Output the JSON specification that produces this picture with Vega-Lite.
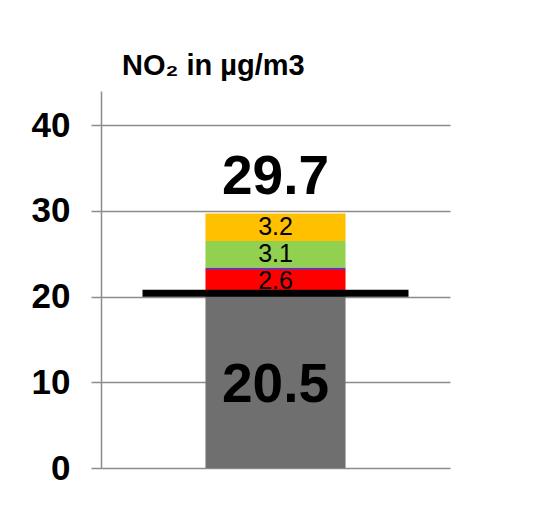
{
  "$schema": "https://vega.github.io/schema/vega-lite/v6.json",
  "width": 349,
  "height": 377,
  "autosize": {"type": "none"},
  "padding": {"left": 101, "top": 91, "right": 99, "bottom": 52},
  "background": "white",
  "config": {"view": {"stroke": null}, "font": "Liberation Sans"},
  "title": {
    "text": "NO₂ in µg/m3",
    "anchor": "start",
    "dx": 91,
    "fontSize": 29,
    "fontWeight": "bold",
    "font": "Liberation Sans",
    "color": "#000000",
    "baseline": "alphabetic",
    "offset": -13
  },
  "datasets": {
    "segments": [
      {"site": "A", "part": "base", "value": 20.5, "order": 1, "label": ""},
      {"site": "A", "part": "red", "value": 2.6, "order": 2, "label": "2.6"},
      {"site": "A", "part": "purple", "value": 0.3, "order": 3, "label": ""},
      {"site": "A", "part": "green", "value": 3.1, "order": 4, "label": "3.1"},
      {"site": "A", "part": "yellow", "value": 3.2, "order": 5, "label": "3.2"}
    ],
    "limit": [{"site": "A", "limit": 20.4}]
  },
  "encoding": {
    "x": {"field": "site", "type": "nominal", "axis": null, "scale": {"paddingInner": 0, "paddingOuter": 0.746}}
  },
  "layer": [
    {
      "data": {"name": "segments"},
      "mark": {"type": "bar"},
      "encoding": {
        "y": {
          "field": "value", "type": "quantitative", "stack": "zero",
          "scale": {"domain": [0, 44], "nice": false, "zero": true},
          "axis": {
            "title": null, "values": [0, 10, 20, 30, 40],
            "grid": true, "gridColor": "#8c8c8c", "gridWidth": 1.5,
            "domainColor": "#8c8c8c", "domainWidth": 1.5,
            "tickColor": "#8c8c8c", "tickWidth": 1.5, "tickSize": 10,
            "labelFontSize": 35, "labelFontWeight": "bold", "labelColor": "#000000",
            "labelFont": "Liberation Sans", "labelPadding": 21
          }
        },
        "color": {
          "field": "part", "type": "nominal", "legend": null,
          "scale": {"domain": ["base", "red", "purple", "green", "yellow"], "range": ["#6f6f6f", "#ff0000", "#7030a0", "#92d050", "#ffc000"]}
        },
        "order": {"field": "order", "type": "quantitative"}
      }
    },
    {
      "data": {"name": "segments"},
      "transform": [
        {"stack": "value", "groupby": ["site"], "sort": [{"field": "order"}], "as": ["v0", "v1"]},
        {"calculate": "(datum.v0 + datum.v1) / 2", "as": "mid"},
        {"filter": "datum.label != ''"}
      ],
      "mark": {"type": "text", "fontSize": 25, "color": "#000000", "baseline": "middle", "font": "Liberation Sans"},
      "encoding": {
        "y": {"field": "mid", "type": "quantitative"},
        "text": {"field": "label"}
      }
    },
    {
      "data": {"name": "limit"},
      "mark": {"type": "tick", "color": "#000000", "size": 266, "thickness": 7, "orient": "horizontal", "opacity": 1},
      "encoding": {
        "y": {"field": "limit", "type": "quantitative"}
      }
    },
    {
      "data": {"name": "segments"},
      "transform": [
        {"filter": "datum.part == 'base'"},
        {"calculate": "datum.value / 2", "as": "half"}
      ],
      "mark": {"type": "text", "fontSize": 55, "fontWeight": "bold", "color": "#000000", "baseline": "middle", "dy": 5, "font": "Liberation Sans"},
      "encoding": {
        "y": {"field": "half", "type": "quantitative"},
        "text": {"field": "value", "type": "quantitative", "format": ".1f"}
      }
    },
    {
      "data": {"name": "segments"},
      "transform": [
        {"aggregate": [{"op": "sum", "field": "value", "as": "total"}], "groupby": ["site"]}
      ],
      "mark": {"type": "text", "fontSize": 55, "fontWeight": "bold", "color": "#000000", "baseline": "middle", "dy": -37, "font": "Liberation Sans"},
      "encoding": {
        "y": {"field": "total", "type": "quantitative"},
        "text": {"field": "total", "type": "quantitative", "format": ".1f"}
      }
    }
  ]
}
